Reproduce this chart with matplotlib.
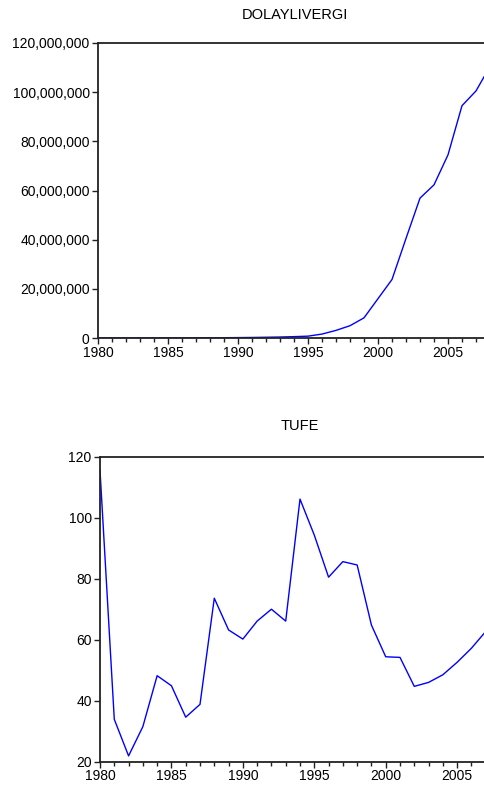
import matplotlib
matplotlib.use("Agg")
import matplotlib.pyplot as plt

plt.rcParams['font.family'] = ['Liberation Sans', 'DejaVu Sans']

years_top = list(range(1980, 2009))
dolaylivergi = [
    0.004e6, 0.006e6, 0.008e6, 0.011e6, 0.016e6, 0.024e6, 0.034e6, 0.050e6,
    0.075e6, 0.120e6, 0.170e6, 0.220e6, 0.300e6, 0.400e6, 0.550e6, 0.750e6,
    1.6e6, 3.1e6, 5.0e6, 8.2e6, 16.0e6, 23.8e6, 40.5e6, 56.9e6, 62.3e6,
    74.5e6, 94.5e6, 100.5e6, 110.5e6,
]

years_bot = list(range(1980, 2009))
tufe = [115.6, 33.9, 21.9, 31.5, 48.2, 44.9, 34.6, 38.8, 73.6, 63.2,
        60.2, 66.1, 70.0, 66.1, 106.1, 94.3, 80.5, 85.6, 84.5, 64.8,
        54.4, 54.2, 44.7, 46.0, 48.5, 52.6, 57.2, 62.7, 68.0]

x_ticks = [1980, 1985, 1990, 1995, 2000, 2005]
x_tick_labels = ['1980', '1985', '1990', '1995', '2000', '2005']
top_y_ticks = [0, 20e6, 40e6, 60e6, 80e6, 100e6, 120e6]
top_y_labels = ['0', '20,000,000', '40,000,000', '60,000,000', '80,000,000',
                '100,000,000', '120,000,000']
bot_y_ticks = [20, 40, 60, 80, 100, 120]
bot_y_labels = ['20', '40', '60', '80', '100', '120']

W, H = 485, 790
fig = plt.figure(figsize=(W / 100, H / 100), dpi=100)

def px_axes(left, right, top, bottom):
    return fig.add_axes([left / W, 1 - bottom / H, (right - left) / W, (bottom - top) / H])

def style(ax):
    for s in ['left', 'top', 'bottom']:
        ax.spines[s].set_linewidth(1.3)
        ax.spines[s].set_color('#222222')
    ax.spines['right'].set_visible(False)
    ax.tick_params(axis='both', which='major', direction='out', length=4.5,
                   width=1.0, color='#222222', labelsize=10, pad=1.5)
    ax.tick_params(axis='x', which='minor', direction='out', length=3,
                   width=1.0, color='#222222')
    ax.tick_params(axis='x', which='major', pad=1)
    ax.set_xticks(list(range(1980, 2009)), minor=True)

# Top panel
ax1 = px_axes(98, 492, 43, 338)
ax1.plot(years_top, dolaylivergi, color='#0000ff', lw=1.0)
ax1.set_xlim(1980, 1980 + 394 / 14)
ax1.set_ylim(0, 120e6)
ax1.set_xticks(x_ticks)
ax1.set_xticklabels(x_tick_labels)
ax1.set_yticks(top_y_ticks)
ax1.set_yticklabels(top_y_labels)
style(ax1)
ax1.set_title('DOLAYLIVERGI', fontsize=10.5, pad=17)

# Bottom panel
ax2 = px_axes(100, 500, 456.7, 761.7)
ax2.plot(years_bot, tufe, color='#0000ff', lw=1.0)
ax2.set_xlim(1980, 1980 + 400 / 14.4)
ax2.set_ylim(20, 120)
ax2.set_xticks(x_ticks)
ax2.set_xticklabels(x_tick_labels)
ax2.set_yticks(bot_y_ticks)
ax2.set_yticklabels(bot_y_labels)
style(ax2)
ax2.set_title('TUFE', fontsize=10.5, pad=19)

fig.savefig('out.png', dpi=100)
